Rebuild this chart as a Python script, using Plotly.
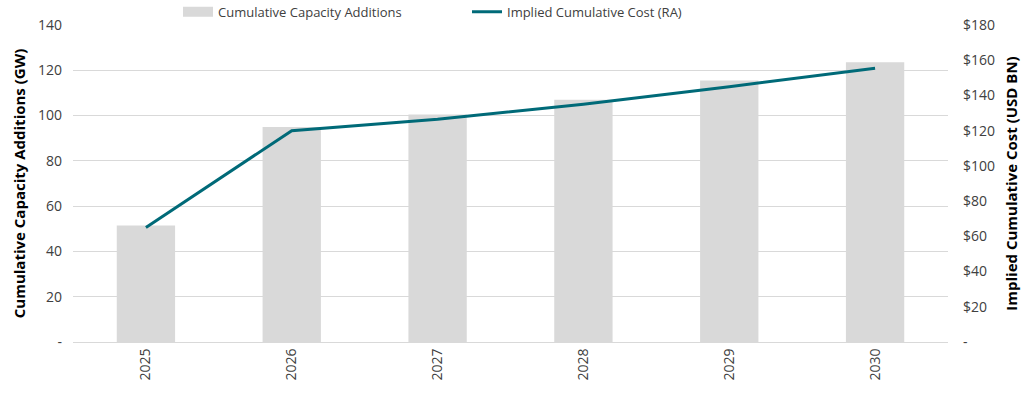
import plotly.graph_objects as go

years = ["2025", "2026", "2027", "2028", "2029", "2030"]
capacity_gw = [51.5, 95, 100.5, 107, 115.5, 123.5]
cost_usd_bn = [65, 120, 126.5, 135, 145, 155.5]

left_ticks = [0, 20, 40, 60, 80, 100, 120, 140]
left_text = ["-"] + [str(v) for v in left_ticks[1:]]
right_ticks = [0, 20, 40, 60, 80, 100, 120, 140, 160, 180]
right_text = ["-"] + ["$" + str(v) for v in right_ticks[1:]]

FONT = "Open Sans"
BAR_COLOR = "#d9d9d9"
LINE_COLOR = "#006a78"

fig = go.Figure()
fig.add_trace(go.Bar(x=years, y=capacity_gw, name="Cumulative Capacity Additions",
                     marker=dict(color=BAR_COLOR, line=dict(width=0)), yaxis="y",
                     showlegend=False, legendgroup="bars"))
# legend proxy so that the bar legend key is a wide rectangle as in the original
fig.add_trace(go.Scatter(x=[None], y=[None], name="Cumulative Capacity Additions",
                         mode="lines", line=dict(color=BAR_COLOR, width=10),
                         legendgroup="bars", hoverinfo="skip"))
fig.add_trace(go.Scatter(x=years, y=cost_usd_bn, name="Implied Cumulative Cost (RA)",
                         mode="lines", line=dict(color=LINE_COLOR, width=3), yaxis="y2"))

fig.update_layout(
    width=1024, height=394,
    margin=dict(l=73, r=76, t=25, b=52, autoexpand=False),
    paper_bgcolor="white", plot_bgcolor="white",
    font=dict(family=FONT, size=14, color="#404040"),
    bargap=0.6,
    showlegend=True,
    legend=dict(orientation="h", x=0.12, y=1.042, xanchor="left", yanchor="middle",
                font=dict(size=13, color="#404040"), itemwidth=30,
                traceorder="normal", entrywidth=244, entrywidthmode="pixels",
                bgcolor="rgba(0,0,0,0)"),
    xaxis=dict(type="category", tickangle=-90, showgrid=False, showline=True,
               linecolor=BAR_COLOR, linewidth=1, ticks="", tickfont=dict(size=14),
               automargin=False),
    yaxis=dict(range=[0, 140], tickvals=left_ticks, ticktext=left_text,
               showgrid=True, gridcolor=BAR_COLOR, gridwidth=1, zeroline=False,
               showline=False, ticks="", ticklabelstandoff=10, automargin=False,
               title=dict(text="Cumulative Capacity Additions (GW)",
                          font=dict(size=15, color="#000000", weight="bold"), standoff=8)),
    yaxis2=dict(range=[0, 180], tickvals=right_ticks, ticktext=right_text,
                overlaying="y", side="right", showgrid=False, zeroline=False,
                showline=False, ticks="", ticklabelstandoff=14, automargin=False,
                title=dict(text="Implied Cumulative Cost (USD BN)",
                           font=dict(size=15, color="#000000", weight="bold"), standoff=12)),
)

fig.write_html("out.html", config={"displayModeBar": False},
               post_script="document.body.style.margin='0';")
